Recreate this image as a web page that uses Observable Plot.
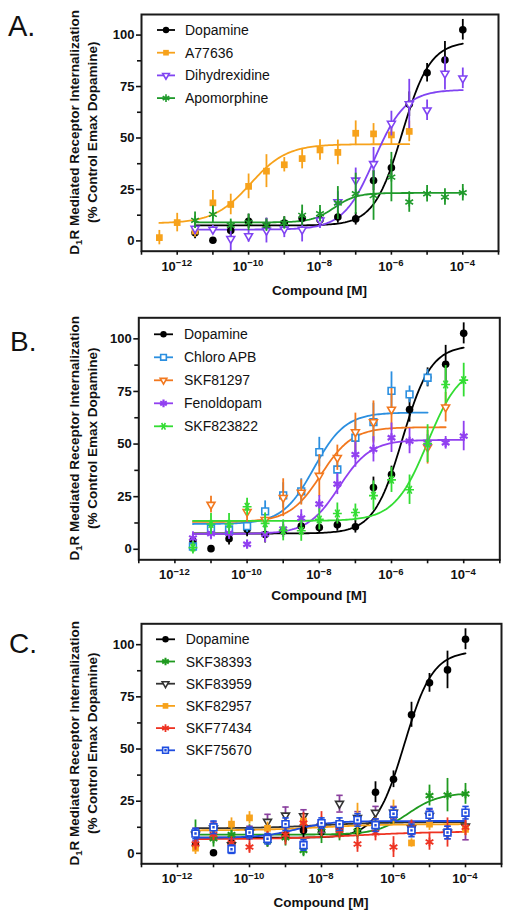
<!DOCTYPE html>
<html><head><meta charset="utf-8">
<script src="https://cdn.jsdelivr.net/npm/d3@7"></script>
<script src="https://cdn.jsdelivr.net/npm/@observablehq/plot@0.6"></script>
<style>body{margin:0;background:#fff;font-family:"Liberation Sans",Arial,sans-serif}svg{display:block}</style>
</head><body><div id="chart"></div>
<script>
// ---------- axis / tick data ----------
const decadeTicks = [-13,-12,-11,-10,-9,-8,-7,-6,-5,-4,-3];
const labeledDecades = [-12,-10,-8,-6,-4];
const yTicks = [0,25,50,75,100];
const yMinorTicks = [12.5,37.5,62.5,87.5];
const xLabel = "Compound [M]";
const yTitle1a = "D", yTitle1sub = "1", yTitle1b = "R Mediated Receptor Internalization";
const yTitle2 = "(% Control Emax Dopamine)";
const panelLetters = ["A.","B.","C."];

// ---------- concentrations (log10 M) ----------
const logConc = [-11.5,-11,-10.5,-10,-9.5,-9,-8.5,-8,-7.5,-7,-6.5,-6,-5.5,-5,-4.5,-4];
const logConcA77636 = [-12.5,-12,-11.5,-11,-10.5,-10,-9.5,-9,-8.5,-8,-7.5,-7,-6.5,-6,-5.5];
const logConcChloroAPB = [-11.5,-11,-10.5,-10,-9.5,-9,-8.5,-8,-7.5,-7,-6.5,-6,-5.5,-5];
const logConcSKF81297 = [-11,-10,-9.5,-9,-8.5,-8,-7.5,-7,-6.5,-6,-5,-4.5];

// ---------- means and error bars ----------
const dopamineMean = [4,0.3,5,9.5,7,8.7,11,10.3,11.6,10.7,29.3,35.5,66.4,81.7,87.9,102.6];
const dopamineErr  = [3,1,3,3.5,4,3,3.5,3,3,3,5,4,6,4.5,9,5];
const a77636Mean = [1.6,8.9,4.8,18.5,17.7,26.5,33.9,37,40,44.2,43,52.3,52,51.5,53.2];
const a77636Err  = [3.5,4.5,3,6,5,6,8,3.5,5,5,6,6,5,5,5];
const dihydrexidineMean = [6,5.5,1,2.4,5,5.6,5.5,10,18.9,29.4,37.4,57,66.5,63.5,81.3,79];
const dihydrexidineErr  = [3,2,6,3,6,4,6,4,5,6,8,6,12,5,8,5];
const apomorphineMean = [10,12.9,7.6,9,7.6,8.7,12.4,13.2,18.4,22.9,22,31,18.9,22.9,21.3,23.4];
const apomorphineErr  = [4,4,3,4,3,3,5,4,8,10,12,12,5,4,4,4];

const chloroAPBMean = [1.3,9.9,9.4,11,18,25.6,27.5,46.2,37.9,53,60.4,75.3,73.6,81.5];
const chloroAPBErr  = [3,3,3,3,5,6,6,7,5,8,9,9,4,4];
const skf81297Mean = [21.2,17.8,14,24.5,27,35,43.5,55.7,60.5,66.4,48.5,67.5];
const skf81297Err  = [4,5,3,9,6,10,6,9,10,10,8,7];
const fenoldopamMean = [5.3,7.5,7.6,2.4,7.2,9.6,14.8,21.5,31,45,47.5,53,51.4,50.5,50.6,53.8];
const fenoldopamErr  = [3,3,3,2,4,4,4,4,5,6,6,7,6,4,3,7];
const skf823822Mean = [0.8,12,12,20.2,12.3,9,8.8,14.2,17,17.5,25.5,33,28.3,50.2,78.3,80.4];
const skf823822Err  = [3,5,5,4,5,5,5,5,5,4,7,6,7,9,9,8];

const skf38393Mean = [10,7,9,10.7,6,7.5,1.4,10.7,10,10.7,13,18,11.5,27.7,27.9,28.5];
const skf38393Err  = [6,4,4,3,3,4,3,6,4,4,4,4,4,5,8,5];
const skf83959Mean = [9,12,4,10,15.2,18.2,17.9,13,23.8,17,19.5,19.5,12,18,10,13];
const skf83959Err  = [3,3,3,3,3.5,4,3,3,4,3,3,3,3,3,3,6.5];
const skf82957Mean = [2.5,12,14,17,12,14,15.5,14.5,14,16,14,19.5,5,14,10,11.5];
const skf82957Err  = [3,3,3,3,3,3,3,3,3,8,3,6,2,3,3,3];
const skf77434Mean = [4.5,9,5,3,7.5,9,14.5,14,11,4.5,10,3,12,5.5,10,12.5];
const skf77434Err  = [3,3,3,3,3,5,5,6,4,4,4,5,4,4,7,4];
const skf75670Mean = [9.5,12.5,2,10,7,14,4,14.5,14,16,13.5,19,11,18.5,10,19.5];
const skf75670Err  = [2.5,3,2,2.5,2.5,3,2.5,2.5,3,3,3,3,3,3,3,3];

// ---------- fitted 4-parameter logistic curves: [bottom, top, logEC50, hill, logMin, logMax] ----------
const fitDopamine      = [7.5,97,-5.7,1.1,-11.5,-4];
const fitA77636        = [8.5,47,-9.95,0.85,-12.5,-5.5];
const fitDihydrexidine = [5.5,73.5,-6.48,1.0,-11.5,-4];
const fitApomorphine   = [9,23.3,-7.6,1.4,-11.5,-4];
const fitChloroAPB     = [12,65,-8.15,1.0,-11.5,-5];
const fitSKF81297      = [13,58,-7.95,1.0,-11.5,-4.5];
const fitFenoldopam    = [7.3,52,-7.45,1.0,-11.5,-4];
const fitSKF823822     = [13.5,88,-5.0,0.95,-11.5,-4];
const fitSKF38393      = [9,29,-5.6,1.0,-11.5,-4];
const fitSKF83959      = [12,15,-8,0.5,-11.5,-4];
const fitSKF82957      = [11,14,-8,0.5,-11.5,-4];
const fitSKF77434      = [6.8,10.5,-7,0.4,-11.5,-4];
const fitSKF75670      = [7.5,15.5,-8.7,0.9,-11.5,-4];

// ---------- symbols ----------
const symDown = {draw(ctx,size){const r=Math.sqrt(size/Math.PI)*1.2;ctx.moveTo(0,r);ctx.lineTo(-r*0.866,-r*0.5);ctx.lineTo(r*0.866,-r*0.5);ctx.closePath();}};
const symCap = {draw(ctx,size){const r=Math.sqrt(size/Math.PI);ctx.moveTo(-r,0);ctx.lineTo(r,0);}};
const symSqDot = {draw(ctx,size){const r=Math.sqrt(size/Math.PI)*0.9;ctx.rect(-r,-r,2*r,2*r);ctx.rect(-0.4,-0.4,0.8,0.8);}};

const S = (name,color,symbol,filled,logs,mean,err,fit,extra={}) => ({name,color,symbol,filled,logs,mean,err,fit,...extra});

const dop = () => S("Dopamine","#000000","circle",true,logConc,dopamineMean,dopamineErr,fitDopamine);

const panels = [
  {height:300, mt:14, mb:49.3, ml:141, mr:13, letterY:36, letterX:8, letterSize:29,
   legendY:30, legendStep:22.7, legX1:157, legX2:175, legTX:185, xLabY:44.3,
   series:[
     dop(),
     S("A77636","#f7a21b","square",true,logConcA77636,a77636Mean,a77636Err,fitA77636),
     S("Dihydrexidine","#8044f2",symDown,false,logConc,dihydrexidineMean,dihydrexidineErr,fitDihydrexidine),
     S("Apomorphine","#1f9a2b","asterisk",false,logConc,apomorphineMean,apomorphineErr,fitApomorphine)
   ]},
  {height:310, mt:17.3, mb:50.7, ml:138.3, mr:11.7, letterY:50.7, letterX:10, letterSize:28,
   legendY:34.3, legendStep:23, legX1:154, legX2:173, legTX:184, xLabY:41,
   series:[
     dop(),
     S("Chloro APB","#2b8fe0","square",false,logConcChloroAPB,chloroAPBMean,chloroAPBErr,fitChloroAPB),
     S("SKF81297","#f2781e",symDown,false,logConcSKF81297,skf81297Mean,skf81297Err,fitSKF81297),
     S("Fenoldopam","#9140f0","asterisk",false,logConc,fenoldopamMean,fenoldopamErr,fitFenoldopam,{sw:2.2}),
     S("SKF823822","#33dd33","asterisk",false,logConc,skf823822Mean,skf823822Err,fitSKF823822,{rotate:90})
   ]},
  {height:309, mt:13.3, mb:55.7, ml:141, mr:10, letterY:43.3, letterX:9, letterSize:28,
   legendY:29.3, legendStep:22.2, legX1:156, legX2:175, legTX:185.7, xLabY:43.4,
   series:[
     dop(),
     S("SKF38393","#1f9a1f","asterisk",false,logConc,skf38393Mean,skf38393Err,fitSKF38393,{sw:2}),
     S("SKF83959","#333333",symDown,false,logConc,skf83959Mean,skf83959Err,fitSKF83959,{errColor:"#8a3f9e",caps:true}),
     S("SKF82957","#f7a21b","square",true,logConc,skf82957Mean,skf82957Err,fitSKF82957),
     S("SKF77434","#ee3322","asterisk",false,logConc,skf77434Mean,skf77434Err,fitSKF77434,{sw:1.8}),
     S("SKF75670","#1f4de0",symSqDot,false,logConc,skf75670Mean,skf75670Err,fitSKF75670,{caps:true})
   ]}
];

const sig = (f,e) => f[0] + (f[1]-f[0]) / (1 + Math.pow(10, (f[2]-e)*f[3]));
const FONT = '"Liberation Sans", Arial, sans-serif';

function dotOpts(s, r) {
  const o = {symbol:s.symbol, r, strokeWidth: s.sw || 1.6, rotate: s.rotate || 0};
  if (s.filled) { o.fill = s.color; o.stroke = "none"; }
  else if (s.symbol === "asterisk") { o.fill = "none"; o.stroke = s.color; }
  else { o.fill = "white"; o.stroke = s.color; }
  return o;
}

function drawPanel(p, idx) {
  const marks = [];
  for (const s of p.series) {
    const f = s.fit, curve = [];
    const n = Math.round((f[5]-f[4])/0.05);
    for (let i = 0; i <= n; i++) { const e = f[4] + i*(f[5]-f[4])/n; curve.push({x:10**e, y:sig(f,e)}); }
    marks.push(Plot.line(curve, {x:"x", y:"y", stroke:s.color, strokeWidth:1.8}));
  }
  for (const s of p.series) {
    const pts = s.logs.map((e,i) => ({x:10**e, y:s.mean[i], lo:s.mean[i]-s.err[i], hi:s.mean[i]+s.err[i]}));
    const ec = s.errColor || s.color;
    marks.push(Plot.ruleX(pts, {x:"x", y1:"lo", y2:"hi", stroke:ec, strokeWidth:1.8}));
    if (s.caps) {
      marks.push(Plot.dot(pts, {x:"x", y:"lo", symbol:symCap, r:3.2, stroke:ec, strokeWidth:1.6}));
      marks.push(Plot.dot(pts, {x:"x", y:"hi", symbol:symCap, r:3.2, stroke:ec, strokeWidth:1.6}));
    }
    marks.push(Plot.dot(pts, {x:"x", y:"y", ...dotOpts(s, s.symbol === "asterisk" ? 4.2 : 3.8)}));
  }
  const plot = Plot.plot({
    width:511, height:p.height, marginTop:p.mt, marginBottom:p.mb, marginLeft:p.ml, marginRight:p.mr,
    style:{fontFamily:FONT, background:"white", color:"#111", overflow:"visible"},
    x:{type:"log", domain:[1e-13,1e-3]},
    y:{domain:[-5,110]},
    marks:[
      ...marks,
      Plot.frame({stroke:"#1a1a1a", strokeWidth:2}),
      Plot.axisY({ticks:yTicks, tickSize:5, tickPadding:2, fontSize:13, fontWeight:"bold", label:null, strokeWidth:1.6}),
      Plot.axisY({ticks:yMinorTicks, tickSize:4, tickFormat:()=>"", label:null, strokeWidth:1.6}),
      Plot.axisX({ticks:decadeTicks.map(e=>10**e), tickSize:4, tickFormat:()=>"", label:null, strokeWidth:1.6})
    ]
  });
  const svg = d3.select(plot);
  const xs = plot.scale("x");
  const bottom = p.height - p.mb, cx = (p.ml + 511 - p.mr)/2, cy = (p.mt + bottom)/2;
  // x tick labels with superscripts
  for (const e of labeledDecades) {
    const t = svg.append("text").attr("x", xs.apply(10**e)).attr("y", bottom + 20)
      .attr("text-anchor","middle").attr("font-family",FONT).attr("font-weight","bold").attr("fill","#111");
    t.append("tspan").attr("font-size",13).text("10");
    t.append("tspan").attr("font-size",9.5).attr("dy",-4.5).text("\u2212" + Math.abs(e));
  }
  svg.append("text").attr("x",cx).attr("y",bottom + p.xLabY).attr("text-anchor","middle")
    .attr("font-family",FONT).attr("font-weight","bold").attr("font-size",13.5).attr("fill","#111").text(xLabel);
  // y title
  const g1 = svg.append("g").attr("transform",`translate(79,${cy}) rotate(-90)`);
  const t1 = g1.append("text").attr("text-anchor","middle").attr("font-family",FONT).attr("font-weight","bold").attr("font-size",13.5).attr("fill","#111");
  t1.append("tspan").text(yTitle1a);
  t1.append("tspan").attr("font-size",9.5).attr("dy",3).text(yTitle1sub);
  t1.append("tspan").attr("dy",-3).text(yTitle1b);
  svg.append("g").attr("transform",`translate(97,${cy}) rotate(-90)`).append("text")
    .attr("text-anchor","middle").attr("font-family",FONT).attr("font-weight","bold").attr("font-size",13.5).attr("fill","#111").text(yTitle2);
  // panel letter
  svg.append("text").attr("x",p.letterX).attr("y",p.letterY).attr("text-anchor","start").attr("font-family",FONT).attr("font-size",p.letterSize).attr("fill","#111").text(panelLetters[idx]);
  // legend
  p.series.forEach((s,i) => {
    const yy = p.legendY + i*p.legendStep;
    const g = svg.append("g");
    g.append("line").attr("x1",p.legX1).attr("x2",p.legX2).attr("y1",yy).attr("y2",yy).attr("stroke",s.color).attr("stroke-width",1.8);
    const symType = typeof s.symbol === "string" ? ({circle:d3.symbolCircle, square:d3.symbolSquare, asterisk:d3.symbolAsterisk})[s.symbol] : s.symbol;
    const o = dotOpts(s, 0);
    const r = s.symbol === "asterisk" ? 3.6 : 3.2;
    g.append("path").attr("d", d3.symbol().type(symType).size(Math.PI*r*r)())
      .attr("transform",`translate(${(p.legX1+p.legX2)/2},${yy}) rotate(${s.rotate||0})`)
      .attr("fill",o.fill).attr("stroke",o.stroke).attr("stroke-width",o.strokeWidth);
    g.append("text").attr("x",p.legTX).attr("y",yy+5).attr("text-anchor","start").attr("font-family",FONT).attr("font-size",14).attr("fill","#111").text(s.name);
  });
  return plot;
}

const root = document.getElementById("chart");
panels.forEach((p,i) => root.appendChild(drawPanel(p,i)));
</script>
</body></html>
